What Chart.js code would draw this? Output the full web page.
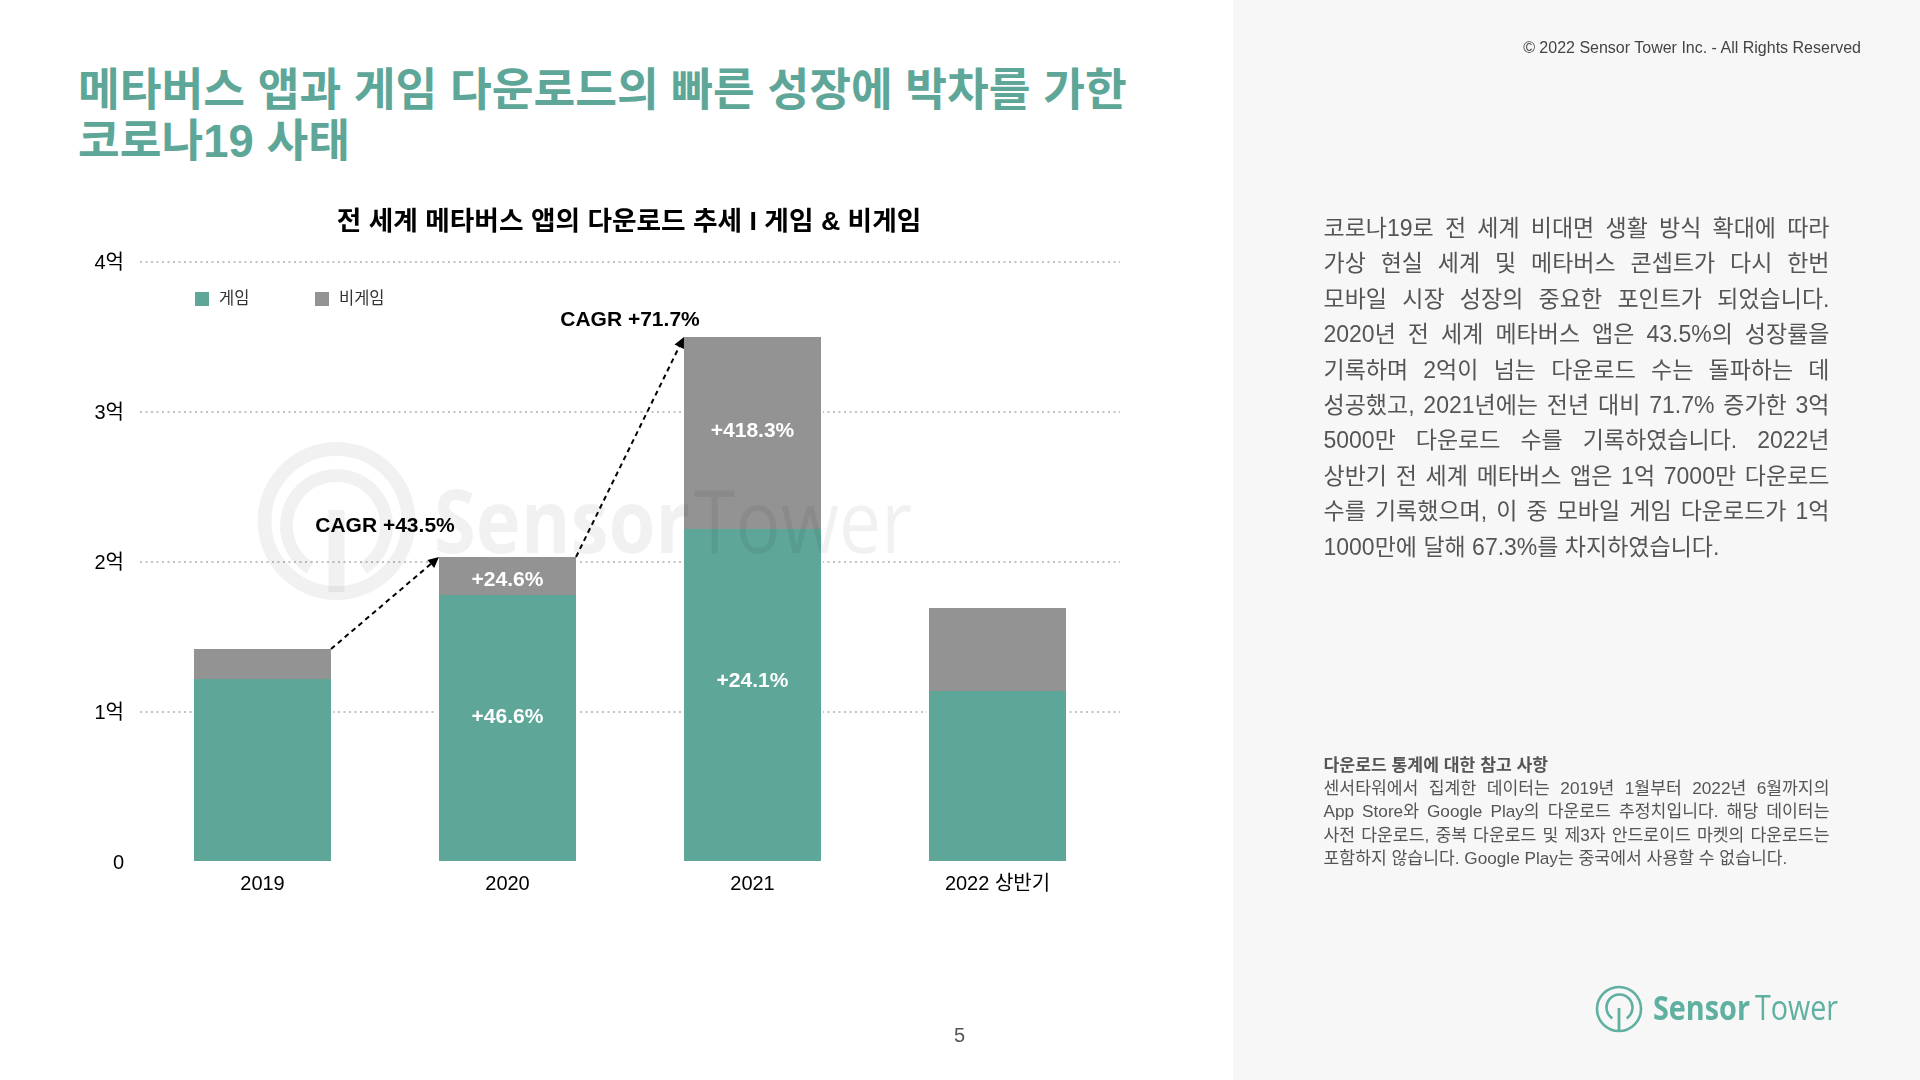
<!DOCTYPE html>
<html lang="ko">
<head>
<meta charset="utf-8">
<title>전 세계 메타버스 앱의 다운로드 추세</title>
<script src="https://cdn.jsdelivr.net/npm/chart.js@4"></script>
<style>
html, body { margin: 0; padding: 0; background: #fff; }
body { width: 1920px; height: 1080px; position: relative; overflow: hidden;
       font-family: "Liberation Sans", "Noto Sans CJK KR", sans-serif; }
#panel { position: absolute; left: 1233px; top: 0; width: 687px; height: 1080px; background: #f7f7f7; }
#headline { position: absolute; left: 78px; top: 65px; margin: 0; font-size: 45.4px; line-height: 51px;
            font-weight: 700; color: #5ea698; white-space: nowrap; }
#chartBox { position: absolute; left: 40px; top: 190px; width: 1178px; height: 740px; }
#legend span { position: absolute; font-size: 16.5px; line-height: 20px; color: #333; white-space: nowrap; }
#legend i { position: absolute; width: 14px; height: 14px; }
#watermark, #logo { position: absolute; left: 0; top: 0; pointer-events: none; }
#copyright { position: absolute; right: 59px; top: 38px; font-size: 16px; line-height: 20px; color: #444; }
#body { position: absolute; left: 1323.5px; top: 211px; width: 506px; font-size: 23px; line-height: 35.4px; color: #555; }
#note { position: absolute; left: 1323.5px; top: 753.5px; width: 506px; font-size: 17.2px; line-height: 23.4px; color: #555; }
.j { text-align: justify; text-align-last: justify; display: block; white-space: nowrap; }
#page { position: absolute; left: 954px; top: 1023px; font-size: 20px; line-height: 24px; color: #555; }
</style>
</head>
<body>
<div id="panel"></div>
<h1 id="headline">메타버스 앱과 게임 다운로드의 빠른 성장에 박차를 가한<br>코로나19 사태</h1>
<div id="chartBox"><canvas id="downloadChart"></canvas></div>
<div id="legend"></div>

<svg id="watermark" width="1920" height="1080" fill="none" stroke="#000" stroke-opacity="0.055">
  <circle cx="336.5" cy="521" r="72" stroke-width="14"/>
  <path d="M310 568 A 50 50 0 1 1 363 568" stroke-width="13"/>
  <path d="M336.5 510 V 592" stroke-width="16"/>
  <text x="434" y="553" font-family="Open Sans" font-size="88" font-weight="700" fill="#000" fill-opacity="0.055" stroke="none" textLength="256" lengthAdjust="spacingAndGlyphs">Sensor</text>
  <text x="694" y="553" font-family="Open Sans" font-size="88" fill="#000" fill-opacity="0.055" stroke="none" textLength="218" lengthAdjust="spacingAndGlyphs">Tower</text>
</svg>

<div id="copyright">© 2022 Sensor Tower Inc. - All Rights Reserved</div>
<div id="body">
  <span class="j">코로나19로 전 세계 비대면 생활 방식 확대에 따라</span>
  <span class="j">가상 현실 세계 및 메타버스 콘셉트가 다시 한번</span>
  <span class="j">모바일 시장 성장의 중요한 포인트가 되었습니다.</span>
  <span class="j">2020년 전 세계 메타버스 앱은 43.5%의 성장률을</span>
  <span class="j">기록하며 2억이 넘는 다운로드 수는 돌파하는 데</span>
  <span class="j">성공했고, 2021년에는 전년 대비 71.7% 증가한 3억</span>
  <span class="j">5000만 다운로드 수를 기록하였습니다. 2022년</span>
  <span class="j">상반기 전 세계 메타버스 앱은 1억 7000만 다운로드</span>
  <span class="j">수를 기록했으며, 이 중 모바일 게임 다운로드가 1억</span>
  <span>1000만에 달해 67.3%를 차지하였습니다.</span>
</div>
<div id="note">
  <b>다운로드 통계에 대한 참고 사항</b><br>
  <span class="j">센서타워에서 집계한 데이터는 2019년 1월부터 2022년 6월까지의</span>
  <span class="j">App Store와 Google Play의 다운로드 추정치입니다. 해당 데이터는</span>
  <span class="j">사전 다운로드, 중복 다운로드 및 제3자 안드로이드 마켓의 다운로드는</span>
  <span>포함하지 않습니다. Google Play는 중국에서 사용할 수 없습니다.</span>
</div>
<div id="page">5</div>

<svg id="logo" width="1920" height="1080" fill="none" stroke="#5fb0a0">
  <circle cx="1619" cy="1009" r="22" stroke-width="2.6"/>
  <path d="M1612.3 1018.3 A 13 13 0 1 1 1626.7 1018.3" stroke-width="2.6"/>
  <path d="M1619 1008 V 1031" stroke-width="2.8"/>
  <text x="1653" y="1020" font-family="Open Sans" font-size="34" font-weight="700" fill="#5fb0a0" stroke="none" textLength="97" lengthAdjust="spacingAndGlyphs">Sensor</text>
  <text x="1755" y="1020" font-family="Open Sans" font-size="34" fill="#5fb0a0" stroke="none" textLength="83" lengthAdjust="spacingAndGlyphs">Tower</text>
</svg>

<script>
var categories = ['2019', '2020', '2021', '2022 상반기'];
var gameValues = [1.22, 1.78, 2.22, 1.14];
var nonGameValues = [0.2, 0.2533, 1.28, 0.5533];
var yTicks = { 0: '0', 1: '1억', 2: '2억', 3: '3억', 4: '4억' };

// growth labels sitting on the bars: which bar, height on the y axis, text
var growthBars = [1, 1, 2, 2];
var growthHeights = [0.968, 1.88, 1.202, 2.875];
var growthTexts = ['+46.6%', '+24.6%', '+24.1%', '+418.3%'];

// CAGR arrows run from the top of one bar to the top of the next
var cagrFrom = [0, 1];
var cagrHeights = [2.24, 3.612];
var cagrTexts = ['CAGR +43.5%', 'CAGR +71.7%'];

var fontFamily = '"Liberation Sans", "Noto Sans CJK KR", sans-serif';
var teal = '#5ea698';
var grey = '#939393';

var annotationPlugin = {
    id: 'annotations',
    afterDatasetsDraw: function (chart) {
        var ctx = chart.ctx;
        var y = chart.scales.y;
        var x = chart.scales.x;
        var topBars = chart.getDatasetMeta(1).data;
        ctx.save();

        ctx.font = 'bold 21px ' + fontFamily;
        ctx.textAlign = 'center';
        ctx.textBaseline = 'middle';
        ctx.fillStyle = '#fff';
        growthTexts.forEach(function (text, i) {
            ctx.fillText(text, x.getPixelForValue(growthBars[i]), y.getPixelForValue(growthHeights[i]));
        });

        ctx.fillStyle = '#000';
        cagrTexts.forEach(function (text, i) {
            var from = cagrFrom[i];
            var mid = (x.getPixelForValue(from) + x.getPixelForValue(from + 1)) / 2;
            ctx.fillText(text, mid, y.getPixelForValue(cagrHeights[i]));

            var a = topBars[from];
            var b = topBars[from + 1];
            var x1 = a.x + a.width / 2 - 2;
            var y1 = a.y;
            var x2 = b.x - b.width / 2 + 2;
            var y2 = b.y;
            var angle = Math.atan2(y2 - y1, x2 - x1);

            ctx.strokeStyle = '#000';
            ctx.lineWidth = 2;
            ctx.setLineDash([5, 4]);
            ctx.beginPath();
            ctx.moveTo(x1, y1);
            ctx.lineTo(x2 - 8 * Math.cos(angle), y2 - 8 * Math.sin(angle));
            ctx.stroke();

            ctx.setLineDash([]);
            ctx.beginPath();
            ctx.moveTo(x2, y2);
            ctx.lineTo(x2 - 12 * Math.cos(angle - 0.45), y2 - 12 * Math.sin(angle - 0.45));
            ctx.lineTo(x2 - 12 * Math.cos(angle + 0.45), y2 - 12 * Math.sin(angle + 0.45));
            ctx.closePath();
            ctx.fill();
        });
        ctx.restore();
    }
};

// the title is centred over the plot, not over the padded box
var titleShift = {
    id: 'titleShift',
    afterLayout: function (chart) {
        chart.titleBlock.left += 49;
        chart.titleBlock.right += 49;
    }
};

function buildLegend(chart) {
    var holder = document.getElementById('legend');
    var swatchLeft = [195, 315];
    chart.data.datasets.forEach(function (ds, i) {
        var box = document.createElement('i');
        box.style.cssText = 'left:' + swatchLeft[i] + 'px;top:292px;background:' + ds.backgroundColor;
        var text = document.createElement('span');
        text.style.cssText = 'left:' + (swatchLeft[i] + 24) + 'px;top:288px';
        text.textContent = ds.label;
        holder.appendChild(box);
        holder.appendChild(text);
    });
}

document.addEventListener('DOMContentLoaded', function () {
    var canvas = document.getElementById('downloadChart');
    canvas.style.width = '1178px';
    canvas.style.height = '740px';

    var chart = new Chart(canvas.getContext('2d'), {
        type: 'bar',
        data: {
            labels: categories,
            datasets: [
                {
                    label: '게임',
                    data: gameValues,
                    backgroundColor: teal,
                    borderColor: '#fff',
                    borderWidth: { left: 2, right: 2 },
                    barPercentage: 0.5755,
                    categoryPercentage: 1
                },
                {
                    label: '비게임',
                    data: nonGameValues,
                    backgroundColor: grey,
                    borderColor: '#fff',
                    borderWidth: { left: 2, right: 2 },
                    barPercentage: 0.5755,
                    categoryPercentage: 1
                }
            ]
        },
        options: {
            responsive: false,
            animation: false,
            layout: { padding: { left: 0, right: 98, top: 0, bottom: 0 } },
            plugins: {
                tooltip: { enabled: false },
                legend: { display: false },
                title: {
                    display: true,
                    text: '전 세계 메타버스 앱의 다운로드 추세 I 게임 & 비게임',
                    color: '#000',
                    font: { family: fontFamily, size: 26.7, weight: 'bold', lineHeight: '32px' },
                    padding: { top: 16.5, bottom: 23.5 }
                }
            },
            scales: {
                x: {
                    stacked: true,
                    grid: { display: false },
                    border: { display: false },
                    ticks: { color: '#000', font: { family: fontFamily, size: 20 }, padding: 2, maxRotation: 0 },
                    afterFit: function (scale) { scale.height = 68; }
                },
                y: {
                    stacked: true,
                    min: 0,
                    max: 4,
                    afterFit: function (scale) { scale.width = 100; },
                    afterBuildTicks: function (scale) {
                        scale.ticks = Object.keys(yTicks).map(function (v) { return { value: Number(v) }; });
                    },
                    grid: {
                        color: function (c) { return c.tick && c.tick.value === 0 ? 'transparent' : '#c2c2c2'; },
                        lineWidth: 2,
                        drawTicks: false
                    },
                    border: { display: false, dash: [2, 3.5] },
                    ticks: {
                        color: '#000',
                        padding: 16,
                        labelOffset: 1,
                        font: { family: fontFamily, size: 20 },
                        callback: function (value) { return yTicks[value]; }
                    }
                }
            }
        },
        plugins: [annotationPlugin, titleShift]
    });
    buildLegend(chart);
});
</script>
</body>
</html>
